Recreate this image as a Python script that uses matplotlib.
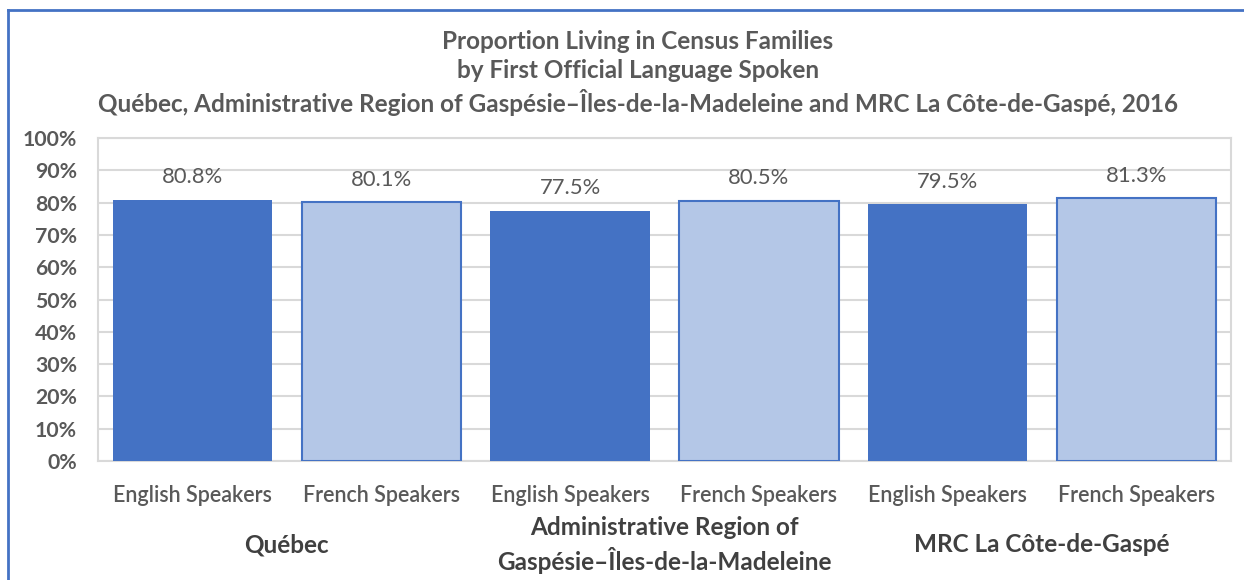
import matplotlib
matplotlib.use("Agg")
from matplotlib import pyplot as plt
from matplotlib.lines import Line2D
import numpy as np

groups = ["Québec", "Administrative Region of\nGaspésie–Îles-de-la-Madeleine", "MRC La Côte-de-Gaspé"]
speakers = ["English Speakers", "French Speakers"]
english = [80.8, 77.5, 79.5]
french = [80.1, 80.5, 81.3]

plt.rcParams['font.family'] = ['Lato', 'DejaVu Sans']
grey = "#595959"
dark = "#4472C4"
light = "#B4C7E7"

fig = plt.figure(figsize=(12.44, 5.8), dpi=100)
ax = fig.add_axes([98/1244, 1-461/580, (1231-98)/1244, (461-138)/580])

values = []
colors = []
labels = []
for e, f in zip(english, french):
    values += [e, f]
    colors += [dark, light]
    labels += speakers
x = np.arange(len(values))
bars = ax.bar(x, values, width=0.843, color=colors, zorder=3)
for i, b in enumerate(bars):
    if i % 2 == 1:
        b.set_edgecolor(dark)
        b.set_linewidth(1.5)
    ax.text(b.get_x() + b.get_width()/2, values[i] + 7, f"{values[i]:.1f}%",
            ha="center", va="center", fontsize=15.8, color=grey)

ax.set_xlim(-0.5, len(values) - 0.5)
ax.set_ylim(0, 100)
ax.set_yticks(range(0, 101, 10))
ax.set_yticklabels([f"{v}%" for v in range(0, 101, 10)], fontsize=15.3, color=grey, fontweight="bold")
ax.set_xticks(x)
ax.set_xticklabels(labels, fontsize=15.5, color=grey, fontweight="semibold")
ax.tick_params(axis="both", length=0)
ax.tick_params(axis="x", pad=17)
ax.tick_params(axis="y", pad=15)
ax.grid(axis="y", color="#d9d9d9", linewidth=1.5, zorder=0)
for s in ax.spines.values():
    s.set_color("#d9d9d9")
    s.set_linewidth(1.5)

for g, name in enumerate(groups):
    ax.text(2*g + 0.5, -26, name, transform=ax.transData, ha="center", va="center",
            fontsize=17.5, fontweight="bold", color="#404040", linespacing=1.35, clip_on=False)

title = ("Proportion Living in Census Families\nby First Official Language Spoken\n"
         "Québec, Administrative Region of Gaspésie–Îles-de-la-Madeleine and MRC La Côte-de-Gaspé, 2016")
fig.text(638/1244, 1-73/580, title, ha="center", va="center", fontsize=17.5, fontweight="bold",
         color=grey, linespacing=1.32)

fig.add_artist(Line2D([8/1244, 8/1244], [0, 1-10/580], color=dark, linewidth=2))
fig.add_artist(Line2D([8/1244, 1], [1-10/580, 1-10/580], color=dark, linewidth=2))

fig.savefig("out.png", dpi=100)
